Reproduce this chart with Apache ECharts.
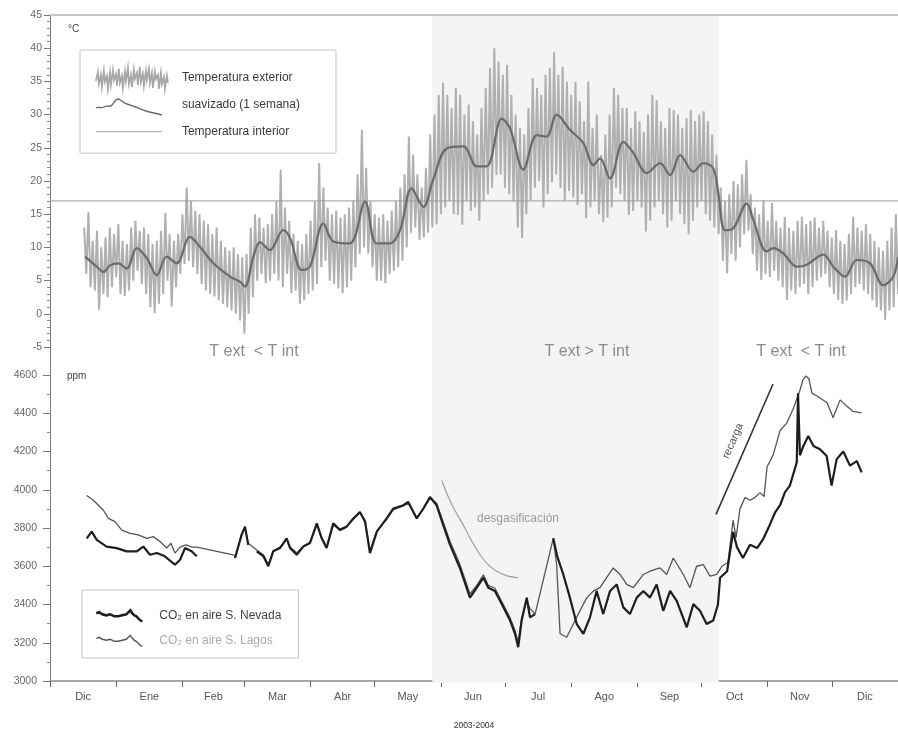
<!DOCTYPE html>
<html>
<head>
<meta charset="utf-8">
<script src="https://cdn.jsdelivr.net/npm/echarts@6/dist/echarts.min.js"></script>
<style>html,body{margin:0;padding:0;background:#fff}#c{width:898px;height:731px}</style>
</head>
<body>
<div id="c"></div>
<script>
// ---------------- DATA ----------------
const monthNames = ['Dic','Ene','Feb','Mar','Abr','May','Jun','Jul','Ago','Sep','Oct','Nov','Dic'];
const monthStarts = [0,31,62,91,122,152,183,213,244,275,305,336,366,397]; // day index from 1 Dec 2003
const xAxisTitle = '2003-2004';
const tempUnit = '°C';
const co2Unit = 'ppm';
const tempAxis = [-5, 45, 5];
const co2Axis = [3000, 4600, 200];
const shadeStart = 179, shadeEnd = 313;
const regionLabels = ['T ext  < T int', 'T ext > T int', 'T ext  < T int'];

const tInterior = 17;

// exterior temperature: daily max (even days) / min (odd days), every 2 days from day 16
const extStartDay = 16;
const extHigh = [
  13,15.3,11,12.5,10,11.5,13,12,13.5,11,10.5,13,14,12.5,13,12,10.5,11,12.5,15.2,12,11,12,
  15,19,17,15.5,15,14,13.5,12,13,11,10,9.5,10,9,8.5,9,13,15,14.5,13,
  13.5,15,17,21.7,16,14,12,11,10.5,12,14,17,22.7,19,16,15,15.5,14.5,15,16,
  17,21,27.7,22,17,15,14.5,15,14,15.5,17,19,21,26.7,24,21,19,22,27,30,
  33,34.8,33,31,34,33,30,31.5,29,27,31,34,37,40,38,36,37.5,33,30,28,
  27,31,35.5,34,33,36,37,39.4,36,37.2,35,33,34.9,32,29,35,28,30,23.9,27,
  30,34,33,31,31,28,30.5,29,27.4,30,33,32.2,29,28,31,30.7,30,28,29.5,30.7,
  29,30,30.5,29,27,24,19,17,18,20,19.5,21,23.2,18,16,15,17.1,14,16.7,14,
  13,14.6,13,12.5,14,14.6,13.5,14,14.5,13,14,12.5,11.5,12.6,11,10.5,12,14.6,13,12.5,
  13.5,12,11,10,9.5,11,13,15
];
const extLow = [
  6,4,3.5,0.6,3,2.5,4,5.5,3,2.7,3.5,5,6.5,4.5,3,1,0.1,1.5,3,5,1.1,4,6,
  7.5,8,7,6,4.5,3.5,3,2.6,2,1.5,1,0.5,0,-1,-3,0,2.5,5,6,4.6,
  5,6,5,4,6,3.1,3.5,1.5,2,3,3.5,4.5,7,8,5,4.5,3.8,3.1,4,5,
  7,9,10,9.1,7,5,5,4.6,6,6.5,7,8,10,12.2,13,11.1,11.5,12.2,13,13.5,
  15,16,17,15,14.9,13.4,17,15.5,16,14,17,18,19,20.9,21,19,18,16.9,13,11.4,
  15,17,19,20,16,18,19.8,21,19,17,18.5,17.5,16.4,18,14.4,16,17,15,13.8,14.5,
  16,19,18,17,14.9,15.5,17,16,12.4,14,16,17,15,13,14,17,15,13.5,12,14,
  16,17,15,14,13,12,8,6.1,9,8,10,12,12.5,9,6.5,5.1,6,5.5,6.5,5,
  4,2.1,3.5,3,4,4.5,3,4,5,5.5,6,4,3,2.1,1.5,2,3,4,4.5,3.5,
  3,2,1,0.5,-0.9,0.5,1,3
];

// 1-week smoothed exterior temperature [day, °C]
const tempSmooth = [
  [16.4,8.6],[21.9,7.1],[25,6.3],[28.1,7.3],[32,7.6],[35.9,6.8],[40.6,9.9],[45.3,8.4],[50,5.8],[54.6,8.6],
  [59.3,7.6],[65.5,11.6],[70.2,10.1],[76.5,7.6],[84.3,5.6],[89,4.8],[91.3,4.1],[95.2,8.6],[98.3,10.8],[101.5,9.9],
  [103,9.6],[109.2,12.6],[112.4,11.4],[117.8,6.6],[121.7,7.1],[128,13.6],[132.6,10.9],[140.4,10.6],[147.5,16.9],[152.9,10.6],
  [159.2,10.6],[163.9,12.6],[169.3,18.9],[174.8,16.1],[179.4,20.2],[185.7,24.9],[193.5,25.2],[199.8,22.2],[204.4,22.2],[211.5,29.4],
  [215.4,27.9],[221.6,21.7],[227.9,26.9],[232.5,26.7],[237.2,30],[243.4,27.7],[249.7,25.7],[254.4,22.4],[257.5,23.4],[262.2,20.4],
  [268.4,25.9],[273.1,24.2],[279.4,21.2],[285.6,22.7],[290.3,20.9],[295,23.9],[301.2,21.4],[305.9,22.7],[310.5,21.9],[312.9,18.1],
  [316,12.6],[319.9,12.9],[326.2,16.6],[329.3,14.1],[335.5,9.4],[338.7,9.9],[343.3,9.1],[349.6,7.1],[354.3,7.4],[362,8.9],
  [366.7,7.1],[372.2,5.6],[377.7,8.1],[383.9,7.6],[390.1,4.3],[394.8,5.6],[397,8.6]
];

// CO2 [day, ppm]; null = gap in record
const co2Nevada = [
  [17.2,3746],[19.5,3781],[21.9,3738],[26.5,3703],[31.2,3695],[35.9,3678],[40.6,3678],[43.7,3703],[46.8,3660],[50,3669],
  [53.8,3652],[58.5,3608],[60.9,3634],[63.2,3695],[66.3,3678],[68.7,3652],[77,null],
  [86.6,3643],[89.7,3764],[91.3,3807],[92.8,3712],[94.5,null],
  [96.8,3678],[99.9,3652],[102.2,3600],[104.5,3678],[107.7,3695],[110.8,3746],[112.4,3695],[115.5,3660],[118.6,3703],[121.7,3721],
  [124.9,3824],[127.2,3746],[129.5,3695],[132.6,3824],[135.8,3789],[138.9,3807],[142,3850],[145.1,3884],[147.5,3833],[149.8,3669],
  [153,3781],[157.6,3850],[160.7,3902],[165.4,3919],[167.7,3936],[171.7,3850],[174.8,3902],[177.9,3962],[181,3919],[184.1,3815],
  [187.3,3712],[191.9,3591],[196.6,3436],[199.8,3488],[202.9,3540],[205.2,3488],[208.3,3471],[211.5,3402],[215.4,3316],[217.7,3247],
  [219.2,3177],[220.8,3316],[223.2,3436],[224.7,3333],[227.1,3350],[231,null],
  [235.6,3746],[237.5,3650],[240.3,3557],[243.4,3436],[246.6,3298],[249.7,3247],[252.8,3333],[255.9,3471],[259,3350],[262.2,3471],
  [265.3,3505],[268.4,3385],[271.5,3350],[274.7,3436],[277.8,3471],[280.9,3436],[284,3505],[287.1,3367],[290.3,3471],[293.4,3419],
  [298.1,3281],[301.2,3402],[304.3,3367],[307.4,3298],[310.5,3316],[312.7,3400],[313.7,3540],[317,3574],[319.8,3780],[321.6,3700],
  [324.4,3643],[327.7,3712],[331,3695],[333.8,3740],[337.1,3820],[339.4,3880],[341.8,3919],[344.1,3988],[346.4,4022],[349.6,4143],
  [350.2,4505],[351.1,4180],[352.7,4229],[355,4281],[357.4,4229],[360.5,4212],[363.6,4177],[365.9,4022],[368.3,4160],[371.4,4200],
  [374.5,4126],[377.7,4150],[380,4091]
];
const co2Lagos = [
  [17.2,3970],[20.3,3945],[25,3893],[27.3,3850],[30.4,3833],[33.6,3789],[37.5,3772],[41.3,3764],[45.3,3746],[48.4,3755],
  [51.5,3729],[54.6,3695],[56.6,3720],[58.5,3669],[60.9,3700],[63.7,3712],[66.5,3700],[68.8,3700],[85.7,3660],
  [87,3650],[89.7,3770],[91.3,3800],[92.8,3720],[96.8,3685],[99.9,3660],[102.2,3610],[104.5,3680],[107.7,3700],[110.8,3740],
  [112.4,3700],[115.5,3670],[118.6,3705],[121.7,3725],[124.9,3815],[127.2,3750],[129.5,3700],[132.6,3815],[135.8,3795],[138.9,3810],
  [142,3845],[145.1,3880],[147.5,3840],[149.8,3680],[153,3785],[157.6,3845],[160.7,3895],[165.4,3915],[167.7,3930],[171.7,3855],
  [174.8,3900],[177.9,3955],[181,3930],[184.1,3830],[187.3,3730],[191.9,3610],[196.6,3455],[199.8,3500],[202.9,3555],[205.2,3500],
  [208.3,3485],[211.5,3415],[215.4,3330],[217.7,3265],[219.2,3200],[220.8,3330],[223.2,3420],[224.7,3380],[227.1,3350],[235.6,3746],
  [237.2,3608],[238.8,3247],[241.9,3229],[245,3298],[248.1,3367],[251.3,3436],[254.4,3471],[257.5,3488],[260.6,3540],[263.7,3591],
  [266.9,3557],[270,3505],[273.1,3488],[277.8,3557],[280.9,3574],[285.6,3591],[288.7,3557],[291.8,3643],[296.5,3557],[299.6,3488],
  [302.7,3600],[305.9,3608],[309,3548],[312.1,3557],[314.6,3600],[317.4,3620],[319.8,3841],[321.2,3750],[323,3900],[325.4,3960],
  [327.7,3945],[330.1,3960],[332.4,3985],[334.3,3965],[335.7,4120],[338.5,4180],[341.8,4310],[345,4350],[347.8,4420],[351.1,4520],
  [352.5,4575],[353.9,4595],[355.3,4580],[356.7,4505],[359.1,4490],[363.8,4455],[366.6,4376],[369.9,4470],[373.1,4436],[375.9,4410],
  [379.9,4402]
];

// annotation trend lines [day, ppm]
const degasCurve = [[183.4,4048],[188,3925],[193.5,3815],[197.5,3730],[201.3,3660],[205,3610],[209.1,3574],[214,3550],[219.2,3540]];
const rechargeLine = [[311.8,3871],[338.5,4553]];

const names = {
  ext: 'Temperatura exterior',
  smooth: 'suavizado (1 semana)',
  interior: 'Temperatura interior',
  nevada: 'CO\u2082 en aire S. Nevada',
  lagos: 'CO\u2082 en aire S. Lagos',
  degas: 'desgasificación',
  recharge: 'recarga'
};

// ---------------- BUILD ----------------
const extZigzag = [];
for (let i = 0; i < Math.min(extHigh.length, extLow.length); i++) {
  extZigzag.push([extStartDay + 2 * i, extHigh[i]]);
  extZigzag.push([extStartDay + 2 * i + 1, extLow[i]]);
}
const labelVals = [];
for (let i = 0; i < monthNames.length; i++) labelVals.push((monthStarts[i] + monthStarts[i + 1]) / 2);
const lastDay = monthStarts[monthStarts.length - 1];

const FONT = '"Liberation Sans", Arial, Helvetica, sans-serif';

const chart = echarts.init(document.getElementById('c'), null, {renderer: 'canvas'});

const yBase = {
  type: 'value',
  axisLine: {show: true, onZero: false, lineStyle: {color: '#7a7a7a', width: 1}},
  axisTick: {show: true, length: 6, lineStyle: {color: '#7a7a7a'}},
  axisLabel: {fontSize: 10.5, color: '#666', fontFamily: FONT, formatter: function (v) { return String(v); }},
  splitLine: {show: false}
};

const textStyleBase = {fontFamily: FONT, align: 'center', verticalAlign: 'middle'};

const option = {
  animation: false,
  backgroundColor: '#fff',
  textStyle: {fontFamily: FONT},
  grid: [
    {left: 50, top: 15, width: 848, height: 332},
    {left: 50, top: 375, width: 848, height: 309},
    {left: 50, top: 16, width: 848, height: 667}
  ],
  xAxis: [
    {gridIndex: 0, type: 'value', min: 0, max: lastDay, position: 'top',
     axisLine: {show: true, onZero: false, lineStyle: {color: '#c6c6c6', width: 2}},
     axisTick: {show: false}, axisLabel: {show: false}, splitLine: {show: false}},
    {gridIndex: 1, type: 'value', min: 0, max: lastDay, position: 'bottom',
     axisLine: {show: true, onZero: false, lineStyle: {color: '#a8a8a8', width: 2}},
     axisTick: {show: true, customValues: monthStarts, length: 6, lineStyle: {color: '#666'}},
     axisLabel: {show: true, customValues: labelVals, fontSize: 11, color: '#555', margin: 10, fontFamily: FONT,
       formatter: function (v) {
         for (let i = 0; i < monthNames.length; i++) {
           if (v >= monthStarts[i] && v < monthStarts[i + 1]) return monthNames[i];
         }
         return '';
       }},
     splitLine: {show: false},
     name: xAxisTitle, nameLocation: 'middle', nameGap: 40,
     nameTextStyle: {fontSize: 8.5, color: '#333', fontFamily: FONT}},
    {gridIndex: 2, type: 'value', min: 0, max: lastDay, show: false}
  ],
  yAxis: [
    Object.assign({}, yBase, {gridIndex: 0, min: tempAxis[0], max: tempAxis[1], interval: tempAxis[2],
      minorTick: {show: true, splitNumber: 5, length: 3, lineStyle: {color: '#8a8a8a'}},
      axisLabel: Object.assign({}, yBase.axisLabel, {margin: 8})}),
    Object.assign({}, yBase, {gridIndex: 1, min: co2Axis[0], max: co2Axis[1], interval: co2Axis[2],
      axisTick: {show: true, length: 7, lineStyle: {color: '#7a7a7a'}},
      minorTick: {show: true, splitNumber: 2, length: 3, lineStyle: {color: '#8a8a8a'}},
      axisLabel: Object.assign({}, yBase.axisLabel, {margin: 13})}),
    {gridIndex: 2, type: 'value', min: 0, max: 1, show: false}
  ],
  legend: [
    {left: 80, top: 50, orient: 'vertical', selectedMode: false, symbolKeepAspect: false,
     itemWidth: 72, itemHeight: 22, itemGap: 3.5, padding: [16, 36, 10, 15],
     borderColor: '#c2c2c2', borderWidth: 1,
     textStyle: {fontSize: 12, color: '#3a3a3a', fontFamily: FONT, padding: [0, 0, 0, 9]},
     data: [
       {name: names.ext,
        icon: 'path://M0,14 L2,5 L3,17 L5,8 L6,20 L8,4 L9,15 L11,9 L12,22 L14,6 L15,18 L17,3 L18,13 L20,7 L21,19 L23,2 L24,16 L26,9 L27,21 L29,5 L30,14 L32,1 L33,17 L35,8 L36,20 L38,3 L39,12 L41,6 L42,18 L44,0 L45,15 L47,7 L48,19 L50,4 L51,13 L53,2 L54,16 L56,6 L57,21 L59,5 L60,12 L62,8 L63,22 L65,6 L66,17 L68,10 L69,22 L71,9 L72,16',
        itemStyle: {color: 'transparent', borderColor: '#a8a8a8', borderWidth: 1.8}},
       {name: names.smooth,
        icon: 'path://M0,0 M72,22 M0,14 C3,12 5,15 8,13 C11,11 13,13 15,12 C18,10 19,5 22,5 C25,5 27,9 31,10 C38,12 44,15 50,17 C56,19 60,19 66,21',
        itemStyle: {color: 'transparent', borderColor: '#6b6b6b', borderWidth: 1.4}},
       {name: names.interior,
        icon: 'path://M0,0 M72,22 M0,11 L66,11',
        itemStyle: {color: 'transparent', borderColor: '#9c9c9c', borderWidth: 1}}
     ]},
    {left: 82, top: 590, orient: 'vertical', selectedMode: false, symbolKeepAspect: false,
     itemWidth: 48, itemHeight: 14, itemGap: 9, padding: [17, 17, 10, 13],
     borderColor: '#c2c2c2', borderWidth: 1,
     textStyle: {fontSize: 12, color: '#444', fontFamily: FONT, padding: [0, 0, 0, 10]},
     data: [
       {name: names.nevada,
        icon: 'path://M0,0 M48,14 M0,5 L3,4 L6,6 L10,7 L14,6 L18,8 L22,8 L26,7 L30,6 L32,4 L34,2 L36,5 L38,7 L40,8 L42,10 L44,12 L46,13',
        itemStyle: {color: 'transparent', borderColor: '#1e1e1e', borderWidth: 2.6},
        textStyle: {color: '#444'}},
       {name: names.lagos,
        icon: 'path://M0,0 M48,14 M0,5 L3,4 L6,6 L10,7 L14,6 L18,8 L22,8 L26,7 L30,6 L32,4 L34,2 L36,5 L38,7 L40,8 L42,10 L44,12 L46,13',
        itemStyle: {color: 'transparent', borderColor: '#555', borderWidth: 1.4},
        textStyle: {color: '#aaa'}}
     ]}
  ],
  series: [
    {type: 'line', name: 'shade', xAxisIndex: 2, yAxisIndex: 2, data: [], silent: true, z: 0,
     markArea: {silent: true, itemStyle: {color: '#f4f4f4'}, data: [[{xAxis: shadeStart}, {xAxis: shadeEnd}]]}},
    {type: 'line', name: names.ext, xAxisIndex: 0, yAxisIndex: 0, data: extZigzag, symbol: 'none',
     lineStyle: {color: '#b0b0b0', width: 2}, itemStyle: {color: '#b0b0b0'}, z: 2},
    {type: 'line', name: names.interior, xAxisIndex: 0, yAxisIndex: 0, data: [[0, tInterior], [lastDay, tInterior]],
     symbol: 'none', lineStyle: {color: '#9c9c9c', width: 1}, itemStyle: {color: '#9c9c9c'}, z: 2},
    {type: 'line', name: names.smooth, xAxisIndex: 0, yAxisIndex: 0, data: tempSmooth, symbol: 'none', smooth: 0.35,
     lineStyle: {color: '#6b6b6b', width: 2.2}, itemStyle: {color: '#6b6b6b'}, z: 3},
    {type: 'line', name: names.lagos, xAxisIndex: 1, yAxisIndex: 1, data: co2Lagos, symbol: 'none', connectNulls: true,
     lineStyle: {color: '#555', width: 1.3}, itemStyle: {color: '#555'}, z: 3},
    {type: 'line', name: names.nevada, xAxisIndex: 1, yAxisIndex: 1, data: co2Nevada, symbol: 'none', connectNulls: false,
     lineStyle: {color: '#1e1e1e', width: 2.2}, itemStyle: {color: '#1e1e1e'}, z: 4},
    {type: 'line', name: names.degas, xAxisIndex: 1, yAxisIndex: 1, data: degasCurve, symbol: 'none', smooth: 0.4,
     lineStyle: {color: '#a0a0a0', width: 1.2}, z: 2},
    {type: 'line', name: names.recharge, xAxisIndex: 1, yAxisIndex: 1, data: rechargeLine, symbol: 'none',
     lineStyle: {color: '#333', width: 1.6}, z: 2}
  ],
  graphic: [
    {type: 'line', silent: true, z: 50, shape: {x1: 50.5, y1: 347, x2: 50.5, y2: 375}, style: {stroke: '#7a7a7a', lineWidth: 1}},
    {type: 'text', x: 68, y: 29, z: 50, silent: true, style: Object.assign({}, textStyleBase, {text: tempUnit, fontSize: 10, fill: '#444', align: 'left'})},
    {type: 'text', x: 67, y: 376, z: 50, silent: true, style: Object.assign({}, textStyleBase, {text: co2Unit, fontSize: 10, fill: '#444', align: 'left'})},
    {type: 'text', x: 254, y: 352, z: 50, silent: true, style: Object.assign({}, textStyleBase, {text: regionLabels[0], fontSize: 16, fill: '#8a8a8a'})},
    {type: 'text', x: 587, y: 352, z: 50, silent: true, style: Object.assign({}, textStyleBase, {text: regionLabels[1], fontSize: 16, fill: '#8a8a8a'})},
    {type: 'text', x: 801, y: 352, z: 50, silent: true, style: Object.assign({}, textStyleBase, {text: regionLabels[2], fontSize: 16, fill: '#8a8a8a'})},
    {type: 'text', x: 518, y: 519, z: 50, silent: true, style: Object.assign({}, textStyleBase, {text: names.degas, fontSize: 12, fill: '#9a9a9a'})},
    {type: 'text', x: 733, y: 441, z: 50, rotation: 1.16, silent: true, style: Object.assign({}, textStyleBase, {text: names.recharge, fontSize: 11, fill: '#555'})}
  ]
};
chart.setOption(option);
</script>
</body>
</html>
